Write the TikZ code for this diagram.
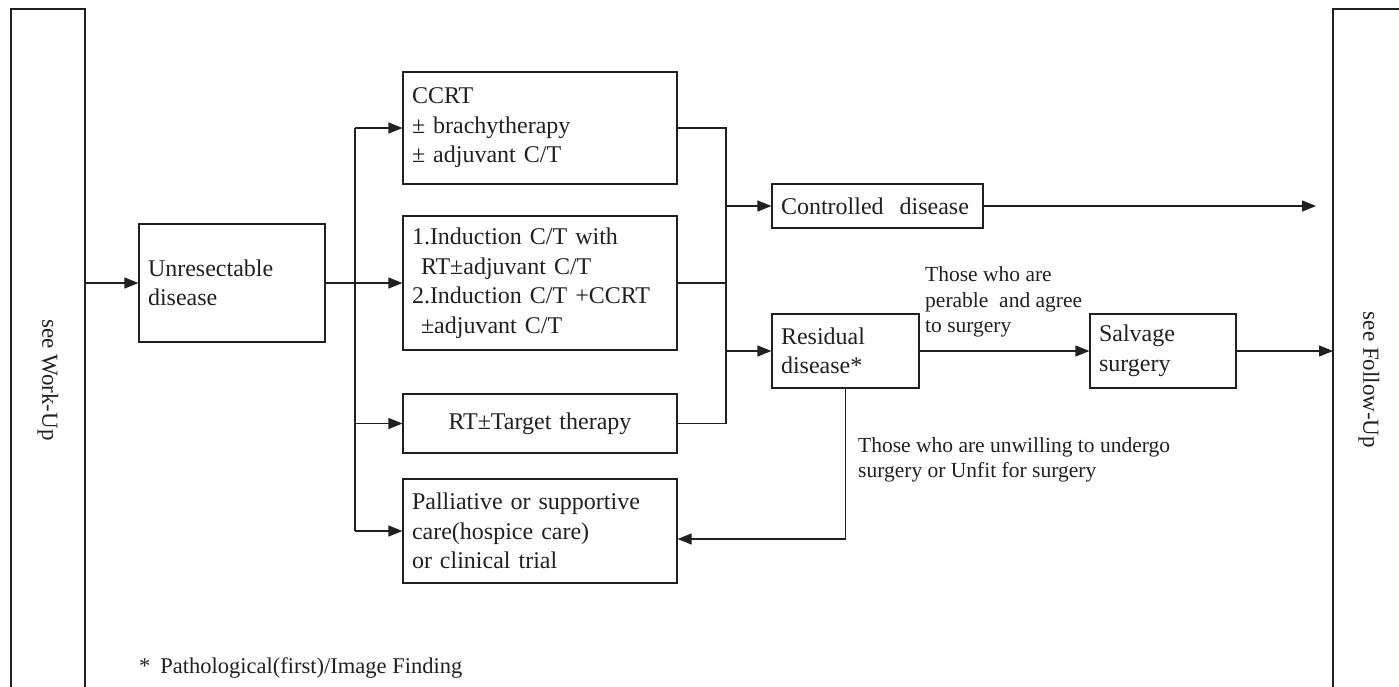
\documentclass[tikz,border=0pt]{standalone}
\usepackage{fontspec}
\setmainfont{Liberation Serif}
\usetikzlibrary{arrows.meta}
\definecolor{ink}{HTML}{231F20}
\tikzset{
  box/.style={draw=ink, line width=1.2pt, text=ink, inner xsep=9pt, inner ysep=3pt, align=left,
              font=\fontsize{24}{29.5}\selectfont},
  conn/.style={draw=ink, line width=1.2pt},
  arr/.style={conn, -{Triangle[length=14pt,width=11pt]}},
  note/.style={text=ink, inner sep=0pt, anchor=west, align=left, font=\fontsize{21.5}{25.5}\selectfont},
  side/.style={text=ink, inner sep=0pt, rotate=-90, font=\fontsize{23}{28}\selectfont}
}
\begin{document}
\begin{tikzpicture}[x=1pt,y=-1pt]
\useasboundingbox (0,0) rectangle (1399,686);
% side frames
\draw[conn] (11,690) -- (11,9) -- (85,9) -- (85,690);
\draw[conn] (1333,690) -- (1333,9) -- (1405,9);
\node[side] (wu) at (48,380) {see Work-Up};
\node[side] (fu) at (1369,380) {see Follow-Up};
\coordinate (wuout) at (85,283);
\coordinate (fuin) at (1333,351);
\coordinate (fuend) at (1316,206);
% boxes
\node[box, text width=168pt, minimum height=118pt] (unres) at (232,283) {Unresectable\\disease};
\node[box, text width=256pt, minimum height=112pt] (ccrt) at (540,128) {CCRT\\± brachytherapy\\± adjuvant C/T};
\node[box, text width=256pt, minimum height=134pt] (ind) at (540,283) {1.Induction C/T with\\\hspace*{9pt}RT±adjuvant C/T\\2.Induction C/T +CCRT\\\hspace*{9pt}±adjuvant C/T};
\node[box, text width=256pt, minimum height=59pt, align=center] (rt) at (540,423.5) {RT±Target therapy};
\node[box, text width=256pt, minimum height=104pt] (pall) at (540,531) {Palliative or supportive\\care(hospice care)\\or clinical trial};
\node[box, text width=193pt, minimum height=44pt] (ctrl) at (877.5,206) {Controlled\ \ disease};
\node[box, text width=129pt, minimum height=74pt] (resid) at (845.5,351) {Residual\\disease*};
\node[box, text width=128pt, minimum height=74pt] (salv) at (1163,351) {Salvage\\surgery};
% notes
\node[note] (n1) at (925,302) {Those who are\\perable\ \ and agree\\to surgery};
\node[note] (n2) at (858,460) {Those who are unwilling to undergo\\surgery or Unfit for surgery};
\node[note, font=\fontsize{22.5}{27}\selectfont] (fn) at (139,668) {*\hspace{10pt}Pathological(first)/Image Finding};
% left trunk
\coordinate (t1) at (355,283);
\draw[arr] (wuout) -- (unres.west);
\draw[conn] (unres.east) -- (t1);
\draw[conn] (t1 |- ccrt.west) -- (t1 |- pall.west);
\draw[arr] (t1 |- ccrt.west) -- (ccrt.west);
\draw[arr] (t1 |- ind.west) -- (ind.west);
\draw[arr] (t1 |- rt.west) -- (rt.west);
\draw[arr] (t1 |- pall.west) -- (pall.west);
% right trunk
\coordinate (t2) at (726,283);
\draw[conn] (ccrt.east) -- (t2 |- ccrt.east) -- (t2 |- rt.east) -- (rt.east);
\draw[conn] (ind.east) -- (t2);
\draw[arr] (t2 |- ctrl.west) -- (ctrl.west);
\draw[arr] (t2 |- resid.west) -- (resid.west);
% outputs
\draw[arr] (ctrl.east) -- (fuend);
\draw[arr] (resid.east) -- (salv.west);
\draw[arr] (salv.east) -- (fuin);
\coordinate (rd) at (845.5,539);
\draw[arr] (resid.south) -- (rd) -- (pall.east |- rd);
\end{tikzpicture}
\end{document}
